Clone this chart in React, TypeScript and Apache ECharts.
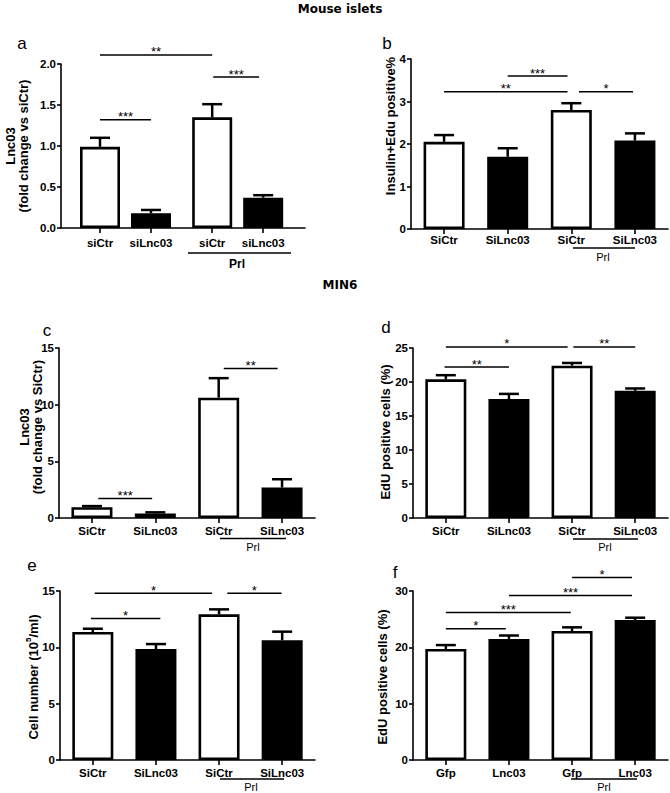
import React, { useEffect, useRef } from 'react';
import * as echarts from 'echarts';

// ---------- data ----------
const catsA = ['siCtr', 'siLnc03', 'siCtr', 'siLnc03'];
const catsSi = ['SiCtr', 'SiLnc03', 'SiCtr', 'SiLnc03'];
const catsF = ['Gfp', 'Lnc03', 'Gfp', 'Lnc03'];

const meanA = [0.99, 0.18, 1.35, 0.37];
const errA = [0.11, 0.04, 0.16, 0.03];
const meanB = [2.05, 1.7, 2.8, 2.08];
const errB = [0.16, 0.2, 0.16, 0.17];
const meanC = [0.95, 0.4, 10.62, 2.69];
const errC = [0.1, 0.1, 1.72, 0.73];
const meanD = [20.4, 17.5, 22.4, 18.7];
const errD = [0.6, 0.75, 0.4, 0.35];
const meanE = [11.36, 9.85, 12.93, 10.62];
const errE = [0.29, 0.44, 0.44, 0.77];
const meanF = [19.7, 21.5, 22.9, 24.85];
const errF = [0.7, 0.6, 0.65, 0.41];

// significance brackets: [from category, to category, y value, stars]
const sigA: [number, number, number, string][] = [[0, 2, 2.11, '**'], [0, 1, 1.32, '***'], [2.02, 2.92, 1.84, '***']];
const sigB: [number, number, number, string][] = [[1, 1.94, 3.6, '***'], [0, 1.94, 3.23, '**'], [2.12, 2.97, 3.23, '*']];
const sigC: [number, number, number, string][] = [[0.1, 0.95, 1.72, '***'], [2.08, 2.93, 13.2, '**']];
const sigD: [number, number, number, string][] = [[0, 1.93, 25.15, '*'], [2.02, 3, 25.15, '**'], [-0.02, 1, 22.2, '**']];
const sigE: [number, number, number, string][] = [[0.03, 1.89, 14.79, '*'], [2.13, 2.99, 14.79, '*'], [-0.03, 1.07, 12.57, '*']];
const sigF: [number, number, number, string][] = [[2, 2.95, 32.4, '*'], [1, 2.95, 29.2, '***'], [0, 1.98, 26.2, '***'], [0, 0.95, 23.3, '*']];

// y axis ranges: [max, interval, decimals]
const yA = [2, 0.5, 1];
const yB = [4, 1, 0];
const yC = [15, 5, 0];
const yD = [25, 5, 0];
const yE = [15, 5, 0];
const yF = [30, 10, 0];

const titles = ['Mouse islets', 'MIN6'];
const groupLabel = 'Prl';

// ---------- layout ----------
const FONT = 'Arial, "Liberation Sans", Helvetica, sans-serif';

type Panel = {
  letter: string; cats: string[]; mean: number[]; err: number[]; sig: [number, number, number, string][];
  y: number[]; gap: number; grid: { left: number; top: number; width: number; height: number };
  xMin: number; xMax: number; barWidth: number; labelMargin: number;
  yName: string; yNameRich?: boolean; yNamePos: [number, number];
  letterPos: [number, number];
  prl: { x1: number; x2: number; y: number; tx: number; ty: number; bold: boolean };
};

const panels: Panel[] = [
  {
    letter: 'a', cats: catsA, mean: meanA, err: errA, sig: sigA, y: yA, gap: 0.2,
    grid: { left: 61, top: 64, width: 244, height: 164 }, xMin: -0.765, xMax: 4.02, barWidth: 40, labelMargin: 9,
    yName: 'Lnc03\n(fold change vs siCtr)', yNamePos: [17, 146], letterPos: [22, 43],
    prl: { x1: 188, x2: 291, y: 253, tx: 237, ty: 264, bold: true },
  },
  {
    letter: 'b', cats: catsSi, mean: meanB, err: errB, sig: sigB, y: yB, gap: 0,
    grid: { left: 411, top: 59, width: 257, height: 170 }, xMin: -0.52, xMax: 3.52, barWidth: 41, labelMargin: 5,
    yName: 'Insulin+Edu positive%', yNamePos: [390, 126], letterPos: [387, 43],
    prl: { x1: 573, x2: 635, y: 248, tx: 603, ty: 257, bold: false },
  },
  {
    letter: 'c', cats: catsSi, mean: meanC, err: errC, sig: sigC, y: yC, gap: 0,
    grid: { left: 59, top: 348, width: 256, height: 170 }, xMin: -0.52, xMax: 3.52, barWidth: 41, labelMargin: 7,
    yName: 'Lnc03\n(fold change vs SiCtr)', yNamePos: [31, 427], letterPos: [47, 330],
    prl: { x1: 220, x2: 286, y: 538.5, tx: 253, ty: 546.5, bold: false },
  },
  {
    letter: 'd', cats: catsSi, mean: meanD, err: errD, sig: sigD, y: yD, gap: 0,
    grid: { left: 413, top: 348, width: 255, height: 170 }, xMin: -0.52, xMax: 3.52, barWidth: 41, labelMargin: 7,
    yName: 'EdU positive cells (%)', yNamePos: [385, 432], letterPos: [386, 327],
    prl: { x1: 573, x2: 638, y: 539, tx: 605, ty: 547, bold: false },
  },
  {
    letter: 'e', cats: catsSi, mean: meanE, err: errE, sig: sigE, y: yE, gap: 0,
    grid: { left: 60, top: 591, width: 255, height: 169 }, xMin: -0.52, xMax: 3.52, barWidth: 41, labelMargin: 7,
    yName: '{n|Cell number (10}{s|5}{n|/ml)}', yNameRich: true, yNamePos: [33, 677], letterPos: [32, 565],
    prl: { x1: 220, x2: 284, y: 779, tx: 251, ty: 787, bold: false },
  },
  {
    letter: 'f', cats: catsF, mean: meanF, err: errF, sig: sigF, y: yF, gap: 0,
    grid: { left: 413, top: 591, width: 255, height: 169 }, xMin: -0.52, xMax: 3.52, barWidth: 41, labelMargin: 7,
    yName: 'EdU positive cells (%)', yNamePos: [382, 677], letterPos: [395, 572],
    prl: { x1: 571, x2: 637, y: 779, tx: 604, ty: 787, bold: false },
  },
];

function buildOption() {
  const grid: any[] = [];
  const xAxis: any[] = [];
  const yAxis: any[] = [];
  const series: any[] = [];
  const graphic: any[] = [];

  graphic.push({ type: 'text', x: 340, y: 9, style: { text: titles[0], fontFamily: '"DejaVu Sans", sans-serif', fontWeight: 'bold', fontSize: 12, fill: '#000', align: 'center', verticalAlign: 'middle' } });
  graphic.push({ type: 'text', x: 340, y: 285, style: { text: titles[1], fontFamily: '"DejaVu Sans", sans-serif', fontWeight: 'bold', fontSize: 12, fill: '#000', align: 'center', verticalAlign: 'middle' } });

  panels.forEach((p, i) => {
    const posOf = (v: number) => v + (v >= 1.5 ? p.gap : 0);
    const positions = p.cats.map((_, k) => posOf(k));
    grid.push({ ...p.grid, containLabel: false });
    xAxis.push({
      type: 'value', gridIndex: i, min: p.xMin, max: p.xMax,
      splitLine: { show: false },
      axisLine: { show: true, onZero: false, lineStyle: { color: '#000', width: 1.6 } },
      axisTick: { show: true, customValues: positions, length: 5, lineStyle: { color: '#000', width: 1.6 } },
      axisLabel: {
        customValues: positions, margin: p.labelMargin, color: '#000', fontWeight: 'bold', fontSize: 11.5, fontFamily: FONT,
        formatter: (v: number) => {
          const k = positions.findIndex((q) => Math.abs(q - v) < 1e-6);
          return k >= 0 ? p.cats[k] : '';
        },
      },
    });
    const [ymax, yint, dec] = p.y;
    yAxis.push({
      type: 'value', gridIndex: i, min: 0, max: ymax, interval: yint,
      splitLine: { show: false },
      axisLine: { show: true, onZero: false, lineStyle: { color: '#000', width: 1.6 } },
      axisTick: { show: true, length: 4, lineStyle: { color: '#000', width: 1.6 } },
      axisLabel: { margin: 5, color: '#000', fontWeight: 'bold', fontSize: 11.5, fontFamily: FONT, formatter: (v: number) => v.toFixed(dec) },
    });

    series.push({
      type: 'bar', xAxisIndex: i, yAxisIndex: i, barWidth: p.barWidth, z: 2,
      data: p.mean.map((m, k) => ({
        value: [positions[k], m],
        itemStyle: { color: k % 2 === 0 ? '#fff' : '#000', borderColor: '#000', borderWidth: 2.6 },
      })),
    });
    series.push({
      type: 'custom', xAxisIndex: i, yAxisIndex: i, z: 3, clip: false,
      encode: { x: 0, y: [1, 2] },
      data: p.mean.map((m, k) => [positions[k], m, m + p.err[k]]),
      renderItem: (params: any, api: any) => {
        const a = api.coord([api.value(0), api.value(1)]);
        const b = api.coord([api.value(0), api.value(2)]);
        return {
          type: 'group', children: [
            { type: 'line', shape: { x1: a[0], y1: a[1], x2: b[0], y2: b[1] }, style: { stroke: '#000', lineWidth: 2.5 } },
            { type: 'line', shape: { x1: b[0] - 10, y1: b[1], x2: b[0] + 10, y2: b[1] }, style: { stroke: '#000', lineWidth: 2.5 } },
          ],
        };
      },
    });
    series.push({
      type: 'custom', xAxisIndex: i, yAxisIndex: i, z: 4, clip: false,
      encode: { x: [0, 1], y: 2 },
      data: p.sig.map((s) => [posOf(s[0]), posOf(s[1]), s[2]]),
      renderItem: (params: any, api: any) => {
        const a = api.coord([api.value(0), api.value(2)]);
        const b = api.coord([api.value(1), api.value(2)]);
        return {
          type: 'group', children: [
            { type: 'line', shape: { x1: a[0], y1: a[1], x2: b[0], y2: b[1] }, style: { stroke: '#000', lineWidth: 1.5 } },
            {
              type: 'text', x: (a[0] + b[0]) / 2, y: a[1] - 3,
              style: { text: p.sig[params.dataIndex][3], fontSize: 13, fontFamily: FONT, fill: '#000', align: 'center', verticalAlign: 'middle' },
            },
          ],
        };
      },
    });

    // panel letter
    graphic.push({ type: 'text', x: p.letterPos[0], y: p.letterPos[1], style: { text: p.letter, fontSize: 17, fontFamily: FONT, fill: '#000', align: 'center', verticalAlign: 'middle' } });
    // y axis name
    if (p.yNameRich) {
      graphic.push({
        type: 'text', x: p.yNamePos[0], y: p.yNamePos[1], rotation: Math.PI / 2,
        style: {
          text: p.yName, align: 'center', verticalAlign: 'middle',
          rich: {
            n: { fontSize: 13, fontWeight: 'bold', fontFamily: FONT, fill: '#000', lineHeight: 18 },
            s: { fontSize: 8, fontWeight: 'bold', fontFamily: FONT, fill: '#000', verticalAlign: 'top' },
          },
        },
      });
    } else {
      graphic.push({
        type: 'text', x: p.yNamePos[0], y: p.yNamePos[1], rotation: Math.PI / 2,
        style: { text: p.yName, fontSize: 13, fontWeight: 'bold', fontFamily: FONT, fill: '#000', align: 'center', verticalAlign: 'middle', lineHeight: 13 },
      });
    }
    // group underline + label
    graphic.push({ type: 'line', shape: { x1: p.prl.x1, y1: p.prl.y, x2: p.prl.x2, y2: p.prl.y }, style: { stroke: '#000', lineWidth: 1.5 } });
    graphic.push({
      type: 'text', x: p.prl.tx, y: p.prl.ty,
      style: { text: groupLabel, fontSize: p.prl.bold ? 12 : 11, fontWeight: p.prl.bold ? 'bold' : 'normal', fontFamily: FONT, fill: '#000', align: 'center', verticalAlign: 'middle' },
    });
  });

  return { animation: false, backgroundColor: '#fff', grid, xAxis, yAxis, series, graphic };
}

export default function App() {
  const ref = useRef<HTMLDivElement>(null);
  useEffect(() => {
    if (!ref.current) return;
    const chart = echarts.init(ref.current, undefined, { renderer: 'svg' });
    chart.setOption(buildOption() as any);
    return () => chart.dispose();
  }, []);
  return <div ref={ref} style={{ position: 'fixed', left: 0, top: 0, width: 670, height: 793, background: '#fff' }} />;
}
